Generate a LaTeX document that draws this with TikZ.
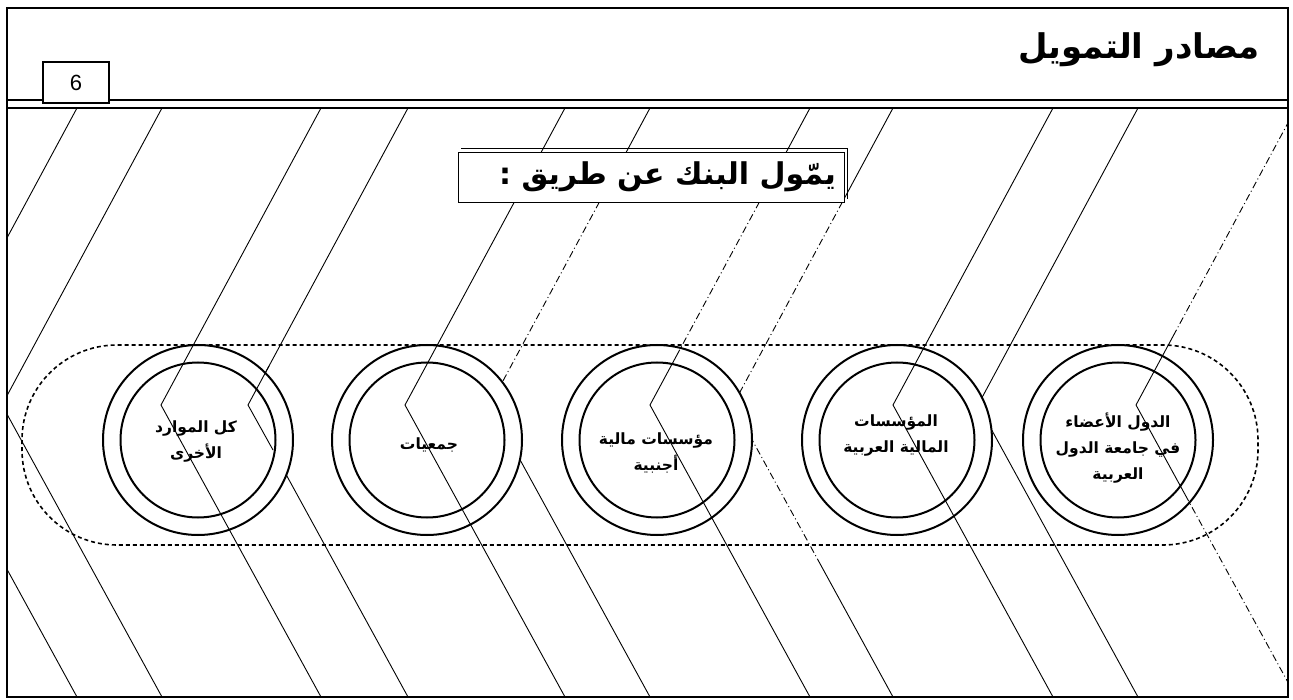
\documentclass[tikz,border=0pt]{standalone}
\usepackage{fontspec}
\setmainfont{Liberation Sans}
\newfontfamily\arabicfont[Script=Arabic]{DejaVu Sans}
\TeXXeTstate=1
\newcommand{\ar}[1]{{\arabicfont\beginR #1\endR}}
\begin{document}
\begin{tikzpicture}[x=1pt,y=-1pt,
  stripe/.style={line width=0.9pt},
  stripedash/.style={line width=0.9pt, dash pattern=on 7pt off 3pt on 1pt off 3pt},
  outerring/.style={circle, draw, line width=2pt, fill=white, minimum size=190pt, inner sep=0pt},
  innerring/.style={circle, draw, line width=2pt, minimum size=155pt, inner sep=0pt},
  lbl/.style={font=\arabicfont\bfseries\fontsize{15.5}{26}\selectfont, align=center, inner sep=0pt}]
\useasboundingbox (0,0) rectangle (1293,700);
\fill[white] (0,0) rectangle (1293,700);
% header rules
\draw[line width=1.5pt] (7,100) -- (1288,100);
\draw[line width=1.5pt] (7,108) -- (1288,108);
% stripes under circles
\begin{scope}
\clip (7,108) rectangle (1288,697);
\draw[stripe] (162,108) -- (2,405) -- (162,697);
\draw[stripe] (408,108) -- (248,405) -- (408,697);
\draw[stripe] (650,108) -- (599.4,202);
\draw[stripedash] (599.4,202) -- (490,405);
\draw[stripe] (490,405) -- (650,697);
\draw[stripe] (893,108) -- (842.4,202);
\draw[stripedash] (842.4,202) -- (733,405) -- (818,560);
\draw[stripe] (818,560) -- (893,697);
\draw[stripe] (1138,108) -- (978,405) -- (1138,697);
\end{scope}
% circles
\foreach \n/\cx in {1/198,2/427,3/657,4/897,5/1118}{
  \node[outerring] (o\n) at (\cx,440) {};
  \node[innerring] (i\n) at (\cx,440) {};
}
% dashed group outline
\draw[line width=1.6pt, dash pattern=on 4pt off 3pt, rounded corners=95pt] (22,345) rectangle (1258,545);
% stripes over circles
\begin{scope}
\clip (7,108) rectangle (1288,697);
\draw[stripe] (77,108) -- (-83,405) -- (77,697);
\draw[stripe] (321,108) -- (161,405) -- (321,697);
\draw[stripe] (269,366) -- (248,405) -- (273,450);
\draw[stripe] (565,108) -- (405,405) -- (565,697);
\draw[stripe] (810,108) -- (759.4,202);
\draw[stripedash] (759.4,202) -- (679.6,350);
\draw[stripe] (679.6,350) -- (650,405) -- (810,697);
\draw[stripe] (1053,108) -- (893,405) -- (1053,697);
\draw[stripedash] (1296,108) -- (1176.4,330);
\draw[stripe] (1176.4,330) -- (1136,405) -- (1185.3,495);
\draw[stripedash] (1185.3,495) -- (1296,697);
\end{scope}
% circle labels
\node[lbl] (t1) at (196,442) {\ar{كل الموارد}\\\ar{الأخرى}};
\node[lbl] (t2) at (429,445) {\ar{جمعيات}};
\node[lbl] (t3) at (656,453) {\ar{مؤسسات مالية}\\\ar{أجنبية}};
\node[lbl] (t4) at (896,436) {\ar{المؤسسات}\\\ar{المالية العربية}};
\node[lbl] (t5) at (1118,448) {\ar{الدول الأعضاء}\\\ar{في جامعة الدول}\\\ar{العربية}};
% heading box
\draw[line width=1pt] (461,149) -- (847,149) -- (847,199);
\node[draw, line width=1.3pt, fill=white, minimum width=386pt, minimum height=50pt, anchor=north west, inner sep=0pt] (hdr) at (458,152) {};
\node[anchor=east, font=\arabicfont\bfseries\fontsize{30}{36}\selectfont, inner sep=0pt] (hdrtxt) at (836,177) {\ar{يمّول البنك عن طريق :}};
% page number box
\node[draw, line width=1.2pt, fill=white, minimum width=66pt, minimum height=41pt, inner sep=0pt, font=\fontsize{22}{26}\selectfont] (pg) at (76,82.5) {6};
% title
\node[anchor=east, font=\arabicfont\bfseries\fontsize{34}{40}\selectfont, inner sep=0pt] (title) at (1260,50) {\ar{مصادر التمويل}};
% frame
\draw[line width=2.5pt] (7,8) rectangle (1288,697);
\end{tikzpicture}
\end{document}
